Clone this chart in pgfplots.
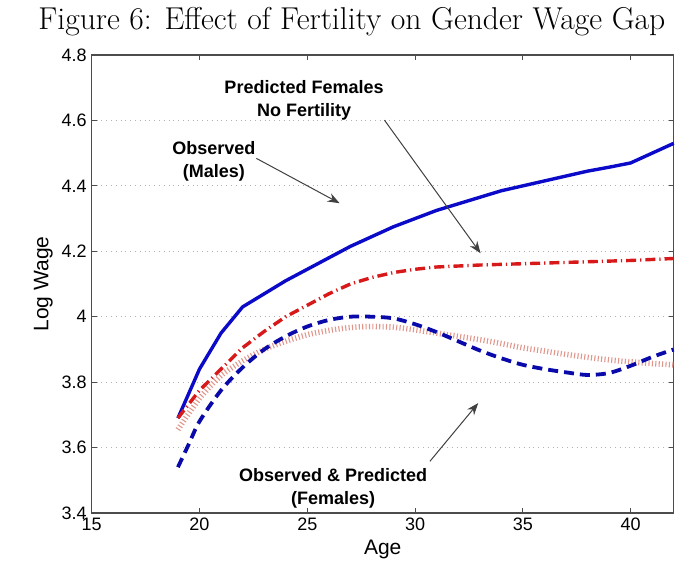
\documentclass[border=0pt]{standalone}
\usepackage{pgfplots}
\pgfplotsset{compat=1.18}
\usepackage{fontspec}
\newfontfamily\helv{Liberation Sans}
\usetikzlibrary{arrows.meta}
\definecolor{mblue}{RGB}{10,10,200}
\definecolor{dblue}{RGB}{10,10,170}
\definecolor{mred}{RGB}{215,25,25}
\definecolor{salmon}{RGB}{225,150,140}
\begin{document}
\begin{tikzpicture}
\begin{axis}[
  scale only axis,
  width=291pt, height=229pt,
  xmin=15, xmax=42, ymin=3.4, ymax=4.8,
  xtick={15,20,25,30,35,40},
  ytick={3.4,3.6,3.8,4,4.2,4.4,4.6,4.8},
  yticklabels={3.4,3.6,3.8,4,4.2,4.4,4.6,4.8},
  ymajorgrids,
  major grid style={gray!60, dotted, line width=0.5pt},
  axis line style={black!70, line width=0.6pt},
  tick style={black!70, line width=0.5pt},
  major tick length=2.5pt,
  tick align=inside,
  /pgf/number format/assume math mode=true,
  ticklabel style={font=\helv\fontsize{9}{10}\selectfont},
  xticklabel style={yshift=1pt},
  yticklabel style={xshift=1pt},
  xlabel={Age}, ylabel={Log Wage},
  every axis x label/.style={at={(axis description cs:0.5,-0.079)}, anchor=center, font=\helv\fontsize{10.5}{12}\selectfont},
  every axis y label/.style={at={(axis description cs:-0.083,0.5)}, rotate=90, anchor=center, font=\helv\fontsize{10.5}{12}\selectfont},
  clip=false,
]
% Observed males
\addplot[mblue, line width=1.7pt] coordinates {
(19,3.69) (20,3.84) (21,3.95) (22,4.03) (23,4.07) (24,4.11) (25,4.145) (26,4.18)
(27,4.215) (28,4.245) (29,4.275) (30,4.30) (31,4.325) (32,4.345) (33,4.365)
(34,4.385) (35,4.40) (36,4.415) (37,4.43) (38,4.445) (39,4.457) (40,4.47)
(41,4.50) (42,4.53)};
% Predicted females, no fertility
\addplot[mred, line width=1.7pt, dash pattern=on 5pt off 2pt on 0.6pt off 2pt] coordinates {
(19,3.69) (20,3.775) (21,3.84) (22,3.905) (23,3.955) (24,4.00) (25,4.035) (26,4.07)
(27,4.10) (28,4.12) (29,4.135) (30,4.145) (31,4.152) (32,4.155) (33,4.158)
(34,4.16) (35,4.162) (36,4.164) (37,4.166) (38,4.168) (39,4.17) (40,4.172)
(41,4.175) (42,4.178)};
% Predicted females (dotted)
\addplot[salmon, line width=2.8pt, dash pattern=on 0.55pt off 1.15pt, smooth] coordinates {
(19,3.655) (20,3.75) (21,3.82) (22,3.865) (23,3.90) (24,3.925) (25,3.945) (26,3.958)
(27,3.967) (28,3.97) (29,3.968) (30,3.96) (31,3.95) (32,3.94) (33,3.93)
(34,3.918) (35,3.905) (36,3.895) (37,3.885) (38,3.876) (39,3.868) (40,3.862)
(41,3.857) (42,3.853)};
% Observed females
\addplot[dblue, line width=1.9pt, dash pattern=on 5pt off 3pt, smooth] coordinates {
(19,3.54) (19.5,3.61) (20,3.68) (21,3.775) (22,3.845) (23,3.90) (24,3.94) (25,3.97)
(26,3.99) (27,4.0) (28,4.0) (29,3.995) (30,3.977) (31,3.953) (32,3.925) (33,3.897)
(34,3.873) (35,3.853) (36,3.84) (37,3.83) (38,3.822) (39,3.828) (40,3.85)
(41,3.877) (42,3.90)};
% annotations
\node[font=\helv\bfseries\fontsize{9}{11.5}\selectfont, align=center] at (axis cs:24.85,4.66) {Predicted Females\\No Fertility};
\draw[black!75, line width=0.5pt, -{Stealth[length=6pt,width=4.5pt]}] (axis cs:28.58,4.601) -- (axis cs:33.04,4.194);
\node[font=\helv\bfseries\fontsize{9}{11.5}\selectfont, align=center] at (axis cs:20.67,4.476) {Observed\\(Males)};
\draw[black!75, line width=0.5pt, -{Stealth[length=6pt,width=4.5pt]}] (axis cs:22.64,4.484) -- (axis cs:26.5,4.347);
\node[font=\helv\bfseries\fontsize{9}{11.5}\selectfont, align=center] at (axis cs:26.2,3.476) {Observed \& Predicted\\(Females)};
\draw[black!75, line width=0.5pt, -{Stealth[length=6pt,width=4.5pt]}] (axis cs:30.69,3.558) -- (axis cs:32.93,3.736);
% title
\node[font=\fontsize{15.8}{18}\selectfont, anchor=center] at (axis description cs:0.447,1.072) {Figure 6: Effect of Fertility on Gender Wage Gap};
% bounding box matching the reference frame
\path (axis description cs:-0.1576,-0.1216) rectangle (axis description cs:1.0452,1.1201);
\end{axis}
\end{tikzpicture}
\end{document}
